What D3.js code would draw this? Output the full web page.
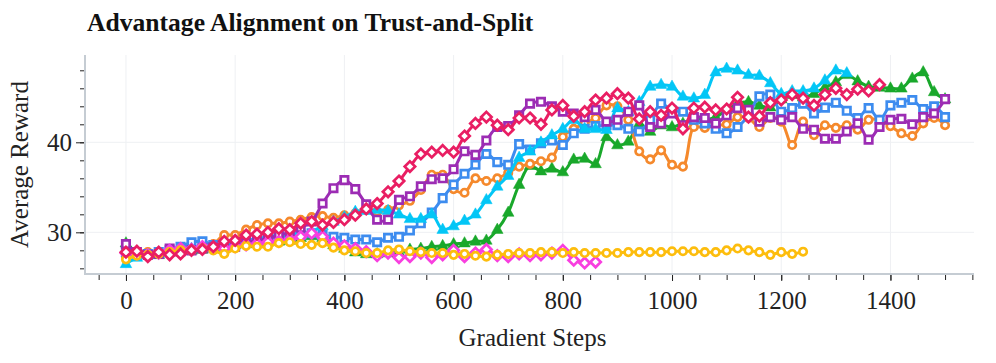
<!DOCTYPE html>
<html><head><meta charset="utf-8">
<script src="https://cdn.jsdelivr.net/npm/d3@7"></script>
<style>body{margin:0;background:#fff}</style>
</head><body><svg id="c" width="996" height="363"></svg>
<script>
const steps = [0,20,40,60,80,100,120,140,160,180,200,220,240,260,280,300,320,340,360,380,400,420,440,460,480,500,520,540,560,580,600,620,640,660,680,700,720,740,760,780,800,820,840,860,880,900,920,940,960,980,1000,1020,1040,1060,1080,1100,1120,1140,1160,1180,1200,1220,1240,1260,1280,1300,1320,1340,1360,1380,1400,1420,1440,1460,1480,1500];

const orange = [27.3,27.6,27.8,27.6,27.9,28.0,28.2,28.3,28.7,29.7,
29.7,30.3,30.8,31.0,31.0,31.2,31.4,31.7,31.8,31.6,
31.9,32.1,32.5,32.3,32.5,33.0,33.5,34.7,36.4,36.4,
34.8,34.4,36.0,35.7,36.0,36.6,37.3,37.6,37.9,38.3,
40.6,41.5,42.1,42.7,44.1,44.0,42.5,39.0,38.1,39.1,
37.5,37.3,41.7,41.6,41.9,42.0,42.8,42.7,41.7,42.7,
42.3,39.7,42.3,40.8,41.9,41.6,41.9,41.4,42.5,42.5,
41.8,41.0,40.7,42.1,42.7,41.9];

const purple = [28.7,27.8,27.5,27.6,28.2,27.9,28.0,28.2,28.3,28.3,
28.4,28.9,29.1,29.3,29.7,30.0,30.5,31.2,33.2,34.9,
35.8,34.8,33.1,31.4,31.4,33.6,34.0,35.1,35.9,36.0,
37.0,39.0,38.6,40.2,41.7,41.8,43.0,44.3,44.5,44.0,
43.4,43.2,42.8,43.6,42.3,42.5,43.4,44.1,41.7,42.1,
43.2,41.9,42.8,42.7,42.1,43.0,43.8,43.6,42.3,42.8,
42.5,42.8,41.5,41.4,40.4,40.4,41.2,42.1,40.3,41.7,
42.5,42.6,42.0,42.8,43.2,44.8];

const blue = [27.8,27.5,27.6,27.8,28.0,28.4,28.9,29.0,28.6,28.5,
28.7,28.9,29.1,29.3,29.5,29.6,29.7,29.9,29.7,29.5,
29.4,29.2,29.2,28.9,29.4,29.5,30.2,31.0,32.2,33.8,
35.3,36.5,37.5,38.7,37.8,37.5,39.8,39.2,39.9,40.2,
39.7,41.0,41.5,41.8,41.9,41.9,41.5,41.2,42.5,44.3,
43.5,43.4,42.5,42.1,41.5,41.0,41.7,43.0,45.1,45.3,
43.4,43.8,44.3,43.2,43.85,44.4,43.5,42.7,43.8,42.5,
44.1,44.4,44.7,43.7,44.0,42.8];

const cyan = [26.5,27.2,27.5,27.6,27.9,28.0,28.2,28.3,28.4,28.6,
28.8,29.1,29.3,29.5,29.7,29.8,29.9,30.1,30.7,31.2,
31.7,32.3,32.4,32.5,32.4,32.0,31.5,31.5,32.0,30.3,
30.7,31.3,32.0,33.6,35.1,36.3,38.3,39.0,40.0,40.8,
41.5,42.5,41.5,41.5,41.4,43.8,43.4,44.5,46.2,46.4,
46.2,45.1,44.9,45.3,47.8,48.2,48.0,47.5,47.4,46.6,
45.4,45.7,45.7,46.0,46.9,48.0,47.7];

const green = [28.8,27.8,27.6,27.5,27.8,28.2,28.0,28.1,28.4,28.4,
28.6,28.7,28.8,28.9,29.0,29.1,29.4,29.6,29.4,28.6,
28.2,27.8,27.6,27.6,27.7,27.8,28.1,28.2,28.4,28.5,
28.7,28.8,29.0,29.1,30.3,32.2,35.3,37.4,36.8,37.1,
36.7,38.1,38.2,37.6,40.6,39.7,40.1,42.1,41.2,41.9,
41.7,42.1,42.7,42.5,42.8,43.6,44.3,44.5,44.1,43.9,
44.8,45.3,45.0,45.4,46.1,46.7,47.5,46.8,46.2,46.1,
46.0,46.0,47.1,47.8,45.6,44.8];

const red = [27.8,27.9,27.3,27.8,27.5,27.6,28.0,28.1,28.4,29.0,
29.1,29.7,29.8,30.0,30.4,30.3,31.0,31.2,30.8,31.1,
31.4,31.9,32.6,33.2,34.5,35.7,37.3,38.7,38.9,39.1,
38.9,40.7,42.1,42.8,41.9,41.4,42.7,42.7,42.0,43.6,
44.1,42.9,43.4,44.7,44.9,45.4,44.9,42.6,43.4,43.0,
43.8,41.5,43.8,43.9,43.6,43.7,45.0,42.8,42.9,44.4,
44.7,45.3,44.9,44.1,45.3,46.0,45.3,45.9,45.7,46.4];

const yellow = [27.0,27.4,27.5,27.6,27.8,28.0,28.0,28.2,28.0,27.6,
28.2,28.5,28.4,28.4,28.8,28.9,28.7,28.6,28.8,28.3,
28.0,27.9,27.7,27.7,28.0,28.1,27.9,27.8,27.7,27.7,
27.5,27.6,27.4,27.3,27.5,27.6,27.7,27.7,27.8,27.8,
27.7,27.8,27.7,27.7,27.7,27.7,27.8,27.8,27.8,27.8,
27.9,27.9,27.9,27.8,27.8,28.0,28.2,28.0,27.8,27.5,
27.8,27.6,27.85];

const magenta = [27.7,27.6,27.5,27.7,28.0,28.2,28.1,28.4,28.3,28.2,
28.4,28.6,28.7,28.9,29.0,29.2,29.5,29.9,29.5,28.8,
28.5,28.2,27.85,27.4,27.7,27.2,27.3,27.7,27.2,27.5,
28.0,27.3,27.7,28.1,27.4,27.3,27.6,27.4,27.5,27.7,
28.0,26.9,26.6,26.7];

const xMajorTicks = [0,200,400,600,800,1000,1200,1400];
const xMinorTicks = [-50,0,50,100,150,200,250,300,350,400,450,500,550,600,650,700,750,800,850,900,950,1000,1050,1100,1150,1200,1250,1300,1350,1400,1450,1500,1550];
const yMajorTicks = [30,40];
const yMinorTicks = [26,28,30,32,34,36,38,40,42,44,46,48];
const titleText = "Advantage Alignment on Trust-and-Split";
const xTitle = "Gradient Steps";
const yTitle = "Average Reward";

const FONT = "'Liberation Serif','Times New Roman',Times,serif";
const L = 85, R = 974, T = 55, B = 274;
const svg = d3.select("#c");
svg.append("rect").attr("width",996).attr("height",363).attr("fill","#fff");

const x = d3.scaleLinear().domain([-75,1553]).range([L,R]);
const y = d3.scaleLinear().domain([25.37,49.7]).range([B,T]);

// gridlines
const grid = svg.append("g");
grid.selectAll("line.gx").data(xMajorTicks).join("line")
  .attr("x1",d=>x(d)).attr("x2",d=>x(d)).attr("y1",T).attr("y2",B)
  .attr("stroke","#eef0f3").attr("stroke-width",1);
grid.selectAll("line.gy").data(yMajorTicks).join("line")
  .attr("x1",L).attr("x2",R).attr("y1",d=>y(d)).attr("y2",d=>y(d))
  .attr("stroke","#eef0f3").attr("stroke-width",1);

// axes ticks
const gx = svg.append("g").attr("transform",`translate(0,${B+1})`);
gx.call(d3.axisBottom(x).tickValues(xMinorTicks).tickSize(5).tickFormat(""));
gx.select(".domain").remove();
const gxM = svg.append("g").attr("transform",`translate(0,${B+1})`);
gxM.call(d3.axisBottom(x).tickValues(xMajorTicks).tickSize(6).tickPadding(10).tickFormat(d3.format("d")));
gxM.select(".domain").remove();
gxM.selectAll("text").attr("font-family",FONT).attr("font-size",25).attr("fill","#222");

const gy = svg.append("g").attr("transform",`translate(${L-1},0)`);
gy.call(d3.axisLeft(y).tickValues(yMinorTicks).tickSize(4).tickFormat(""));
gy.select(".domain").remove();
const gyM = svg.append("g").attr("transform",`translate(${L-1},0)`);
gyM.call(d3.axisLeft(y).tickValues(yMajorTicks).tickSize(8).tickPadding(4).tickFormat(d3.format("d")));
gyM.select(".domain").remove();
gyM.selectAll("text").attr("font-family",FONT).attr("font-size",25).attr("fill","#222");
svg.selectAll(".tick line").attr("stroke","#222");

// axis lines
svg.append("line").attr("x1",L).attr("x2",L).attr("y1",T).attr("y2",B+1)
  .attr("stroke","#c5ccd3").attr("stroke-width",2);
svg.append("line").attr("x1",L-1).attr("x2",R).attr("y1",B).attr("y2",B)
  .attr("stroke","#c5ccd3").attr("stroke-width",2);

// titles
svg.append("text").attr("x",87).attr("y",31).text(titleText)
  .attr("font-family",FONT).attr("font-weight","bold").attr("font-size",25.6).attr("fill","#111");
svg.append("text").attr("x",(L+R)/2+3).attr("y",346).attr("text-anchor","middle").text(xTitle)
  .attr("font-family",FONT).attr("font-size",25).attr("fill","#222");
svg.append("text").attr("transform",`translate(28,${(T+B)/2}) rotate(-90)`).attr("text-anchor","middle").text(yTitle)
  .attr("font-family",FONT).attr("font-size",25).attr("fill","#222");

// symbols
function shapePath(kind){
  if(kind==="circle") return "M3.7,0A3.7,3.7 0 1,1 -3.7,0A3.7,3.7 0 1,1 3.7,0Z";
  if(kind==="square") return "M-3.7,-3.7H3.7V3.7H-3.7Z";
  if(kind==="diamond") return "M0,-5.2L5.2,0L0,5.2L-5.2,0Z";
  if(kind==="triangle") return "M0,-6.5L5.8,3.8L-5.8,3.8Z";
}

const series = [
  {name:"green", values:green, color:"#19a82b", shape:"triangle", filled:true},
  {name:"orange", values:orange, color:"#f5892c", shape:"circle", filled:false},
  {name:"blue", values:blue, color:"#3d8cef", shape:"square", filled:false},
  {name:"cyan", values:cyan, color:"#03c6f6", shape:"triangle", filled:true},
  {name:"purple", values:purple, color:"#9c2cb4", shape:"square", filled:false},
  {name:"magenta", values:magenta, color:"#f83fdf", shape:"diamond", filled:false},
  {name:"yellow", values:yellow, color:"#fdbd0d", shape:"circle", filled:false},
  {name:"red", values:red, color:"#e91e63", shape:"diamond", filled:false}
];

const line = d3.line().x(d=>x(d[0])).y(d=>y(d[1])).curve(d3.curveCatmullRom.alpha(0.5));
const plot = svg.append("g");
series.forEach(s=>{
  const pts = s.values.map((v,i)=>[steps[i],v]);
  const g = plot.append("g");
  g.append("path").attr("d",line(pts)).attr("fill","none").attr("stroke",s.color)
    .attr("stroke-width",3).attr("stroke-linejoin","round");
  g.selectAll("path.m").data(pts).join("path").attr("class","m")
    .attr("d",shapePath(s.shape))
    .attr("transform",d=>`translate(${x(d[0])},${y(d[1])})`)
    .attr("fill",s.filled?s.color:"#fff")
    .attr("stroke",s.color).attr("stroke-width",s.filled?0.5:2.7);
});
</script></body></html>
